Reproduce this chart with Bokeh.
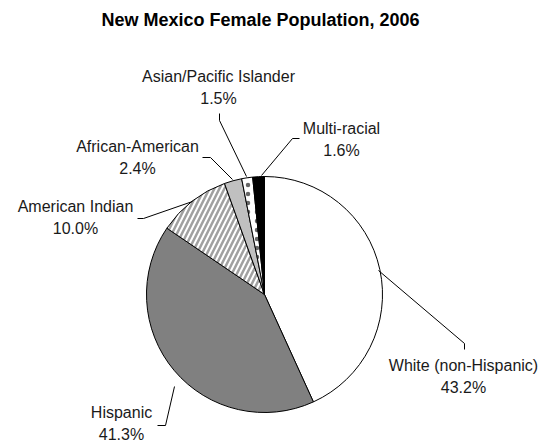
import numpy as np
from bokeh.plotting import figure
from bokeh.models import Range1d
from bokeh.core.properties import value
from bokeh.embed import file_html
from bokeh.resources import INLINE

# ---- data ----
categories = ["White (non-Hispanic)", "Hispanic", "American Indian",
              "African-American", "Asian/Pacific Islander", "Multi-racial"]
percents = [43.2, 41.3, 10.0, 2.4, 1.5, 1.6]
title_text = "New Mexico Female Population, 2006"

# ---- styles ----
fill_colors = ["white", "#808080", "white", "#c0c0c0", "white", "black"]
hatches = [None, None, "/", None, ".", None]
hatch_colors = [None, None, "#a0a0a0", None, "#666666", None]
hatch_scales = [None, None, 10, None, 9, None]
hatch_weights = [None, None, 2.5, None, 1, None]

W, H = 546, 445
CX, CY, R = 264, 294, 118  # pixel layout of the pie
FONT = value("Liberation Sans")

def Y(py):
    return H - py

# label layout: (center x, line1 y, line2 y) in pixels, leader polyline (pixels)
label_pos = [
    (463, 365, 387, [(464, 349), (464, 343), (378, 270)]),
    (121, 412, 434, [(157, 425), (165, 425), (174, 386)]),
    (75, 206, 228, [(137, 218), (143, 218), (192, 201)]),
    (137, 146, 168, [(202, 157), (210, 157), (232, 179)]),
    (218, 76, 98, [(219, 113), (219, 120), (246, 176)]),
    (341, 128, 150, [(299, 138), (292, 138), (261, 175)]),
]

p = figure(width=W, height=H, output_backend="svg", toolbar_location=None,
           x_axis_type=None, y_axis_type=None, min_border=0,
           x_range=Range1d(0, W), y_range=Range1d(0, H))
p.grid.visible = False
p.outline_line_color = None
p.background_fill_color = "white"

total = float(sum(percents))
cum = np.concatenate([[0.0], np.cumsum(percents) / total])
for i, cat in enumerate(categories):
    start = np.pi / 2 - 2 * np.pi * cum[i + 1]
    end = np.pi / 2 - 2 * np.pi * cum[i]
    kw = dict(x=CX, y=Y(CY), radius=R, start_angle=start, end_angle=end,
              direction="anticlock", fill_color=fill_colors[i],
              line_color="black", line_width=1)
    if hatches[i]:
        kw.update(hatch_pattern=hatches[i], hatch_color=hatch_colors[i],
                  hatch_scale=hatch_scales[i], hatch_weight=hatch_weights[i])
    p.wedge(**kw)

for i, cat in enumerate(categories):
    lx, y1, y2, leader = label_pos[i]
    p.line(x=[pt[0] for pt in leader], y=[Y(pt[1]) for pt in leader],
           line_color="black", line_width=1)
    p.text(x=[lx, lx], y=[Y(y1), Y(y2)],
           text=[cat, f"{percents[i]:.1f}%"],
           text_font=FONT, text_font_size="16px", text_color="#1a1a1a",
           text_align="center", text_baseline="middle")

p.text(x=[260], y=[Y(19)], text=[title_text], text_font=FONT,
       text_font_size="18px", text_font_style="bold", text_color="black",
       text_align="center", text_baseline="middle")

open("out.html", "w").write(file_html(p, INLINE))
